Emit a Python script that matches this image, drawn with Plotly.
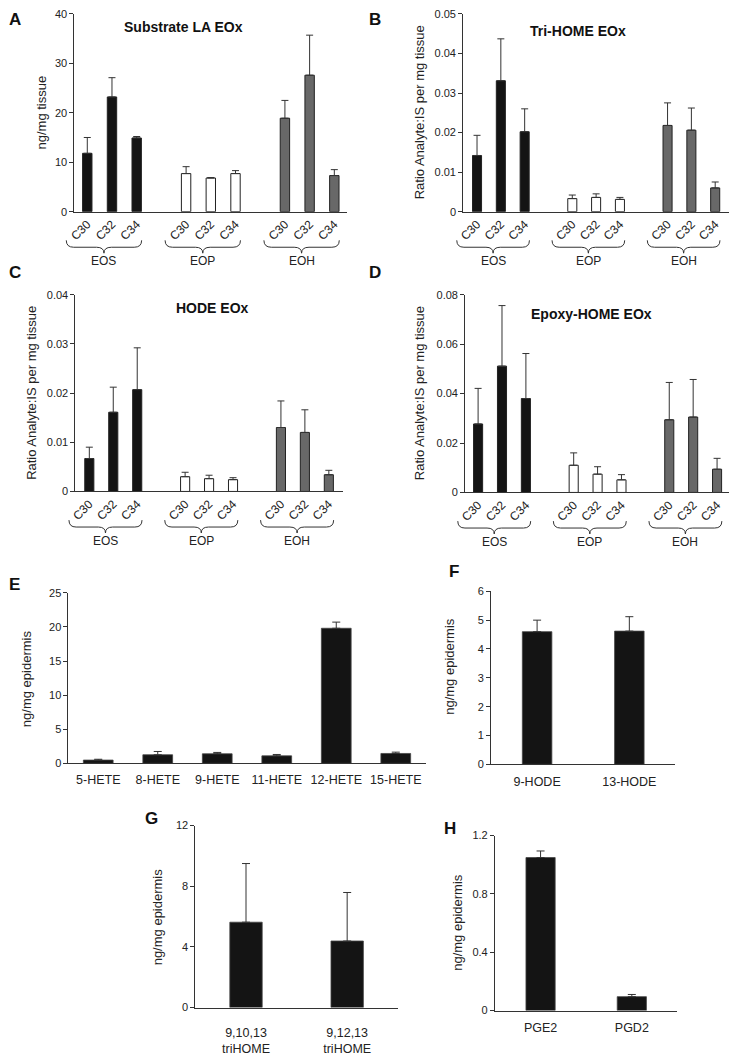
import plotly.graph_objects as go

# ---------------- data ----------------
groups = ["EOS", "EOP", "EOH"]
chains = ["C30", "C32", "C34"]

# Panel A: Substrate LA EOx (ng/mg tissue)
a_vals = {"EOS": [11.8, 23.2, 14.9], "EOP": [7.7, 6.8, 7.7], "EOH": [18.9, 27.6, 7.3]}
a_err = {"EOS": [3.2, 3.9, 0.3], "EOP": [1.4, 0.1, 0.6], "EOH": [3.6, 8.1, 1.2]}
# Panel B: Tri-HOME EOx
b_vals = {"EOS": [0.0142, 0.0331, 0.0202], "EOP": [0.0033, 0.0036, 0.0031], "EOH": [0.0218, 0.0206, 0.0060]}
b_err = {"EOS": [0.0051, 0.0106, 0.0058], "EOP": [0.0009, 0.0009, 0.0005], "EOH": [0.0057, 0.0056, 0.0015]}
# Panel C: HODE EOx
c_vals = {"EOS": [0.0067, 0.0161, 0.0207], "EOP": [0.0030, 0.0026, 0.0024], "EOH": [0.0130, 0.0120, 0.0034]}
c_err = {"EOS": [0.0023, 0.0051, 0.0085], "EOP": [0.0009, 0.0007, 0.0004], "EOH": [0.0054, 0.0046, 0.0009]}
# Panel D: Epoxy-HOME EOx
d_vals = {"EOS": [0.0277, 0.0511, 0.0380], "EOP": [0.0110, 0.0074, 0.0051], "EOH": [0.0294, 0.0305, 0.0094]}
d_err = {"EOS": [0.0144, 0.0245, 0.0182], "EOP": [0.0050, 0.0030, 0.0021], "EOH": [0.0151, 0.0152, 0.0044]}

# Panel E: HETEs (ng/mg epidermis)
e_cats = ["5-HETE", "8-HETE", "9-HETE", "11-HETE", "12-HETE", "15-HETE"]
e_vals = [0.48, 1.26, 1.40, 1.10, 19.8, 1.45]
e_err = [0.12, 0.48, 0.20, 0.20, 0.90, 0.19]
# Panel F: HODEs
f_cats = ["9-HODE", "13-HODE"]
f_vals = [4.60, 4.62]
f_err = [0.40, 0.50]
# Panel G: triHOMEs
g_cats = ["9,10,13<br>triHOME", "9,12,13<br>triHOME"]
g_vals = [5.63, 4.39]
g_err = [3.87, 3.20]
# Panel H: prostaglandins
h_cats = ["PGE2", "PGD2"]
h_vals = [1.049, 0.095]
h_err = [0.045, 0.015]

# ---------------- styling ----------------
W, H = 730, 1062
FONT = "Liberation Sans, Arial, Helvetica, sans-serif"
TXT = "#222222"
AX = "#333333"
group_fill = {"EOS": "#141414", "EOP": "#ffffff", "EOH": "#686868"}


def px(x):
    return x / W


def py(y):
    return 1 - y / H


fig = go.Figure()
annotations = []
shapes = []


def axis_pair(i, xdom, ydom, xrange, yrange, dtick, xstandoff=0):
    xs = "xaxis" if i == 1 else f"xaxis{i}"
    ys = "yaxis" if i == 1 else f"yaxis{i}"
    yid = "y" if i == 1 else f"y{i}"
    xid = "x" if i == 1 else f"x{i}"
    xa = dict(domain=[px(xdom[0]), px(xdom[1])], range=xrange, anchor=yid,
              showline=True, linecolor=AX, linewidth=1, showgrid=False, zeroline=False,
              ticks="", tickfont=dict(size=12.5, color=TXT, family=FONT), fixedrange=True,
              ticklabelstandoff=xstandoff)
    ya = dict(domain=[py(ydom[1]), py(ydom[0])], range=yrange, anchor=xid,
              showline=True, linecolor=AX, linewidth=1, showgrid=False, zeroline=False,
              ticks="outside", ticklen=4, tickwidth=1, tickcolor=AX, tick0=0, dtick=dtick,
              tickfont=dict(size=11, color=TXT, family=FONT), fixedrange=True)
    fig.update_layout(**{xs: xa, ys: ya})
    return xid, yid


def err_dict(err, width):
    return dict(type="data", array=err, arrayminus=[0] * len(err), symmetric=False,
                visible=True, color=AX, thickness=1, width=width)


def grouped_panel(i, vals, errs, xdom, ydom, xrange, yrange, dtick,
                  title, title_xy, ylabel, ylabel_x, letter, letter_xy):
    xid, yid = axis_pair(i, xdom, ydom, xrange, yrange, dtick)
    tickvals, ticktext = [], []
    lo, hi = xrange

    def dom(v):
        return (v - lo) / (hi - lo)

    for gi, g in enumerate(groups):
        xs = [gi * 4 + k for k in range(len(chains))]
        tickvals += xs
        ticktext += chains
        fig.add_trace(go.Bar(x=xs, y=vals[g], width=0.38, xaxis=xid, yaxis=yid,
                             marker=dict(color=group_fill[g], line=dict(color="#222222", width=1)),
                             error_y=err_dict(errs[g], 3.5), showlegend=False, name=g))
        # brace under group (x in axis-domain fraction, y in paper)
        x0, x1 = gi * 4 - 0.85, gi * 4 + 2.2
        xm = (x0 + x1) / 2
        d = 0.3
        y0 = ydom[1]
        yt, ym, yb = py(y0 + 29), py(y0 + 36), py(y0 + 42)
        path = (f"M {dom(x0)},{yt} Q {dom(x0)},{ym} {dom(x0 + d)},{ym} "
                f"L {dom(xm - d)},{ym} Q {dom(xm)},{ym} {dom(xm)},{yb} "
                f"Q {dom(xm)},{ym} {dom(xm + d)},{ym} L {dom(x1 - d)},{ym} "
                f"Q {dom(x1)},{ym} {dom(x1)},{yt}")
        shapes.append(dict(type="path", path=path, xref=f"{xid} domain", yref="paper",
                           line=dict(color=AX, width=1)))
        annotations.append(dict(x=xm, y=py(y0 + 50), xref=xid, yref="paper", text=g,
                                showarrow=False, xanchor="center", yanchor="middle",
                                font=dict(size=12, color=TXT, family=FONT)))
    fig.layout[("xaxis" if i == 1 else f"xaxis{i}")].update(
        tickmode="array", tickvals=tickvals, ticktext=ticktext, tickangle=-45,
        tickfont=dict(size=12, color=TXT, family=FONT))
    annotations.append(dict(x=px(title_xy[0]), y=py(title_xy[1]), xref="paper", yref="paper",
                            text=f"<b>{title}</b>", showarrow=False, xanchor="center",
                            yanchor="middle", font=dict(size=14, color="#111111", family=FONT)))
    add_common(ylabel, ylabel_x, (ydom[0] + ydom[1]) / 2, letter, letter_xy)


def add_common(ylabel, ylabel_x, ylabel_y, letter, letter_xy):
    annotations.append(dict(x=px(ylabel_x), y=py(ylabel_y), xref="paper", yref="paper",
                            text=ylabel, textangle=-90, showarrow=False, xanchor="center",
                            yanchor="middle", font=dict(size=13, color=TXT, family=FONT)))
    annotations.append(dict(x=px(letter_xy[0]), y=py(letter_xy[1]), xref="paper", yref="paper",
                            text=f"<b>{letter}</b>", showarrow=False, xanchor="center",
                            yanchor="middle", font=dict(size=17, color="#111111", family=FONT)))


def simple_panel(i, cats, vals, errs, width, xdom, ydom, yrange, dtick,
                 ylabel, ylabel_x, ylabel_y, letter, letter_xy, standoff):
    xid, yid = axis_pair(i, xdom, ydom, [-0.5, len(cats) - 0.5], yrange, dtick, standoff)
    xs = list(range(len(cats)))
    fig.add_trace(go.Bar(x=xs, y=vals, width=width, xaxis=xid, yaxis=yid,
                         marker=dict(color="#141414", line=dict(color="#444444", width=0.8)),
                         error_y=err_dict(errs, 4), showlegend=False))
    fig.layout[("xaxis" if i == 1 else f"xaxis{i}")].update(
        tickmode="array", tickvals=xs, ticktext=cats)
    add_common(ylabel, ylabel_x, ylabel_y, letter, letter_xy)


RATIO = "Ratio Analyte:IS per mg tissue"
EPI = "ng/mg epidermis"

grouped_panel(1, a_vals, a_err, (69, 344), (8, 208), [-0.52, 10.52], [0, 40], 10,
              "Substrate LA EOx", (179, 21), "ng/mg tissue", 36, "A", (9, 14))
grouped_panel(2, b_vals, b_err, (461, 729), (8, 208), [-0.58, 10.58], [0, 0.05], 0.01,
              "Tri-HOME EOx", (577, 25), RATIO, 417, "B", (372, 14))
grouped_panel(3, c_vals, c_err, (70, 340), (292, 491), [-0.58, 10.6], [0, 0.04], 0.01,
              "HODE EOx", (208, 305), RATIO, 25, "C", (9, 270))
grouped_panel(4, d_vals, d_err, (463, 729), (292, 492), [-0.54, 10.5], [0, 0.08], 0.02,
              "Epoxy-HOME EOx", (590, 312), RATIO, 417, "D", (372, 270))

simple_panel(5, e_cats, e_vals, e_err, 0.5, (63, 423), (593.5, 766), [0, 25], 5,
             EPI, 20, 680, "E", (9, 585), 5)
simple_panel(6, f_cats, f_vals, f_err, 0.32, (489, 675), (592, 767), [0, 6], 1,
             EPI, 447, 668, "F", (452, 572), 6)
simple_panel(7, g_cats, g_vals, g_err, 0.32, (191, 395), (829, 1013), [0, 12], 4,
             EPI, 153, 921, "G", (147, 822), 13)
simple_panel(8, h_cats, h_vals, h_err, 0.32, (493, 677), (839, 1016), [0, 1.2], 0.4,
             EPI, 455, 927, "H", (448, 832), 5)

fig.update_layout(width=W, height=H, margin=dict(l=0, r=0, t=0, b=0),
                  paper_bgcolor="white", plot_bgcolor="white", showlegend=False,
                  font=dict(family=FONT, color=TXT), bargap=0,
                  annotations=annotations, shapes=shapes)

fig.write_html("out.html",
               config={"displayModeBar": False, "staticPlot": True},
               post_script="document.body.style.margin='0';document.body.style.padding='0';"
                           "document.body.style.overflow='hidden';"
                           "document.documentElement.style.overflow='hidden';")
